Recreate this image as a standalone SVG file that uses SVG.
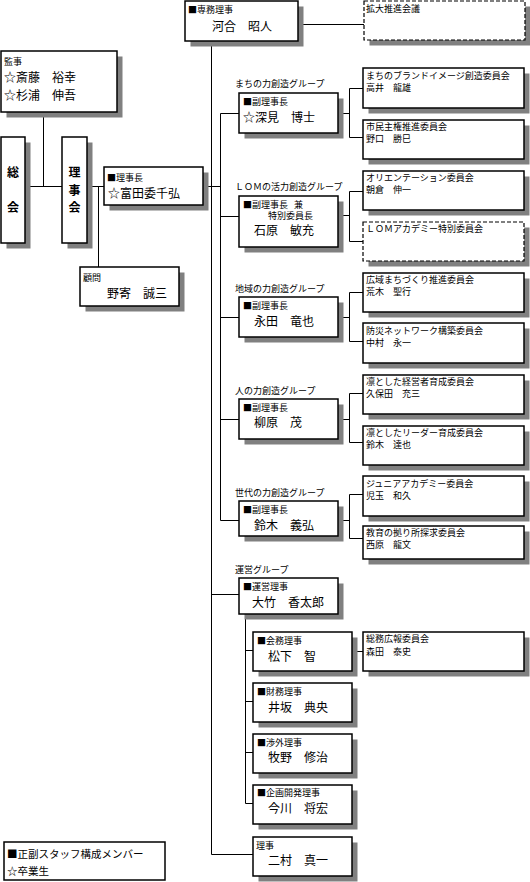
<svg xmlns="http://www.w3.org/2000/svg" width="530" height="882" viewBox="0 0 530 882">
<style>
text{font-family:"Noto Sans CJK JP","Noto Sans",sans-serif;fill:#000}
.s{font-size:9px}
.n{font-size:12px}
.b{font-size:12px;font-weight:bold;text-anchor:middle}
.l{font-size:10.5px}
.box{fill:#fff;stroke:#000;stroke-width:1.5}
.dash{fill:#fff;stroke:#000;stroke-width:1.2;stroke-dasharray:4,2}
.sh{fill:#808080}
#connectors path{fill:none;stroke:#000;stroke-width:1}
</style>
<rect width="530" height="882" fill="#fff"/>
<g id="connectors">
<path d="M298,24.5H364"/>
<path d="M211.5,41V854.5H253"/>
<path d="M203,186.5H220.5"/>
<path d="M43.5,112V186.5"/>
<path d="M25,186.5H62"/>
<path d="M87,186.5H104"/>
<path d="M98.5,186.5V267"/>
<path d="M239,113.5H220.5V520.5H239"/>
<path d="M220.5,216.5H239M220.5,317.5H239M220.5,419.5H239"/>
<path d="M211.5,594.5H239"/>
<path d="M338,113.5H349.5M363,88.5H349.5V137.5H363"/>
<path d="M338,215.5H349.5M363,191.5H349.5V241.5H363"/>
<path d="M338,317.5H349.5M363,292.5H349.5V341.5H363"/>
<path d="M338,419.5H349.5M363,393.5H349.5V442.5H363"/>
<path d="M338,520.5H349.5M363,494.5H349.5V538.5H363"/>
<path d="M352,651.5H363"/>
<path d="M245.5,614V803.5H253M245.5,650.5H253M245.5,701.5H253M245.5,752.5H253"/>
</g>
<g id="senmu">
<rect class="sh" x="190.5" y="6.5" width="113" height="40"/>
<rect class="box" x="185" y="1" width="113" height="40"/>
<text class="s" x="188" y="13">■専務理事</text>
<text class="n" x="212" y="31">河合　昭人</text>
</g>
<g id="kakudai">
<rect class="sh" x="369.5" y="6.5" width="161" height="39"/>
<rect class="dash" x="364" y="1" width="161" height="39"/>
<text class="s" x="366" y="12">拡大推進会議</text>
</g>
<g id="kanji">
<rect class="sh" x="6.5" y="56.5" width="116" height="61"/>
<rect class="box" x="1" y="51" width="116" height="61"/>
<text class="s" x="4" y="65">監事</text>
<text class="n" x="4" y="82">☆斎藤　裕幸</text>
<text class="n" x="4" y="100">☆杉浦　伸吾</text>
</g>
<g id="soukai">
<rect class="sh" x="6.5" y="142.5" width="24" height="106"/>
<rect class="box" x="1" y="137" width="24" height="106"/>
<text class="b" x="13" y="177">総</text>
<text class="b" x="13" y="212">会</text>
</g>
<g id="rijikai">
<rect class="sh" x="67.5" y="142.5" width="25" height="106"/>
<rect class="box" x="62" y="137" width="25" height="106"/>
<text class="b" x="74.5" y="177">理</text>
<text class="b" x="74.5" y="195">事</text>
<text class="b" x="74.5" y="212">会</text>
</g>
<g id="rijicho">
<rect class="sh" x="109.5" y="172.5" width="99" height="38"/>
<rect class="box" x="104" y="167" width="99" height="38"/>
<text class="s" x="107" y="181">■理事長</text>
<text class="n" x="108" y="198">☆富田委千弘</text>
</g>
<g id="komon">
<rect class="sh" x="85.5" y="272.5" width="99" height="39"/>
<rect class="box" x="80" y="267" width="99" height="39"/>
<text class="s" x="83" y="281">顧問</text>
<text class="n" x="107" y="298">野寄　誠三</text>
</g>
<g id="fukami">
<text class="s" x="235" y="87">まちの力創造グループ</text>
<rect class="sh" x="244.5" y="98.5" width="99" height="40"/>
<rect class="box" x="239" y="93" width="99" height="40"/>
<text class="s" x="243" y="105">■副理事長</text>
<text class="n" x="243" y="122">☆深見　博士</text>
</g>
<g id="ishihara">
<text class="s" x="235" y="190">ＬＯＭの活力創造グループ</text>
<rect class="sh" x="244.5" y="201.5" width="99" height="51"/>
<rect class="box" x="239" y="196" width="99" height="51"/>
<text class="s" x="243" y="208">■副理事長<tspan x="294">兼</tspan><tspan x="268" y="219">特別委員長</tspan></text>
<text class="n" x="254" y="235">石原　敏充</text>
</g>
<g id="nagata">
<text class="s" x="235" y="292">地域の力創造グループ</text>
<rect class="sh" x="244.5" y="302.5" width="99" height="40"/>
<rect class="box" x="239" y="297" width="99" height="40"/>
<text class="s" x="243" y="309">■副理事長</text>
<text class="n" x="254" y="326">永田　竜也</text>
</g>
<g id="yanagihara">
<text class="s" x="235" y="394">人の力創造グループ</text>
<rect class="sh" x="244.5" y="404.5" width="99" height="40"/>
<rect class="box" x="239" y="399" width="99" height="40"/>
<text class="s" x="243" y="411">■副理事長</text>
<text class="n" x="254" y="427">柳原　茂</text>
</g>
<g id="suzuki">
<text class="s" x="235" y="496">世代の力創造グループ</text>
<rect class="sh" x="244.5" y="506.5" width="99" height="35"/>
<rect class="box" x="239" y="501" width="99" height="35"/>
<text class="s" x="243" y="513">■副理事長</text>
<text class="n" x="254" y="530">鈴木　義弘</text>
</g>
<g id="ootake">
<text class="s" x="235" y="573">運営グループ</text>
<rect class="sh" x="244.5" y="583.5" width="99" height="36"/>
<rect class="box" x="239" y="578" width="99" height="36"/>
<text class="s" x="243" y="590">■運営理事</text>
<text class="n" x="252" y="607">大竹　香太郎</text>
</g>
<g id="com1">
<rect class="sh" x="368.5" y="73.5" width="161" height="40"/>
<rect class="box" x="363" y="68" width="161" height="40"/>
<text class="s" x="366" y="79">まちのブランドイメージ創造委員会</text>
<text class="s" x="366" y="91">高井　龍雄</text>
</g>
<g id="com2">
<rect class="sh" x="368.5" y="125.5" width="161" height="39"/>
<rect class="box" x="363" y="120" width="161" height="39"/>
<text class="s" x="366" y="130">市民主権推進委員会</text>
<text class="s" x="366" y="142">野口　勝巳</text>
</g>
<g id="com3">
<rect class="sh" x="368.5" y="176.5" width="161" height="39"/>
<rect class="box" x="363" y="171" width="161" height="39"/>
<text class="s" x="366" y="181">オリエンテーション委員会</text>
<text class="s" x="366" y="193">朝倉　伸一</text>
</g>
<g id="com4">
<rect class="sh" x="368.5" y="227.5" width="161" height="39"/>
<rect class="dash" x="363" y="222" width="161" height="39"/>
<text class="s" x="366" y="232">ＬＯＭアカデミー特別委員会</text>
</g>
<g id="com5">
<rect class="sh" x="368.5" y="278.5" width="161" height="39"/>
<rect class="box" x="363" y="273" width="161" height="39"/>
<text class="s" x="366" y="283">広域まちづくり推進委員会</text>
<text class="s" x="366" y="295">荒木　聖行</text>
</g>
<g id="com6">
<rect class="sh" x="368.5" y="328.5" width="161" height="40"/>
<rect class="box" x="363" y="323" width="161" height="40"/>
<text class="s" x="366" y="334">防災ネットワーク構築委員会</text>
<text class="s" x="366" y="346">中村　永一</text>
</g>
<g id="com7">
<rect class="sh" x="368.5" y="380.5" width="161" height="39"/>
<rect class="box" x="363" y="375" width="161" height="39"/>
<text class="s" x="366" y="385">凛とした経営者育成委員会</text>
<text class="s" x="366" y="397">久保田　充三</text>
</g>
<g id="com8">
<rect class="sh" x="368.5" y="431.5" width="161" height="39"/>
<rect class="box" x="363" y="426" width="161" height="39"/>
<text class="s" x="366" y="436">凛としたリーダー育成委員会</text>
<text class="s" x="366" y="448">鈴木　達也</text>
</g>
<g id="com9">
<rect class="sh" x="368.5" y="481.5" width="161" height="40"/>
<rect class="box" x="363" y="476" width="161" height="40"/>
<text class="s" x="366" y="487">ジュニアアカデミー委員会</text>
<text class="s" x="366" y="499">児玉　和久</text>
</g>
<g id="com10">
<rect class="sh" x="368.5" y="531.5" width="161" height="33"/>
<rect class="box" x="363" y="526" width="161" height="33"/>
<text class="s" x="366" y="536">教育の拠り所探求委員会</text>
<text class="s" x="366" y="548">西原　龍文</text>
</g>
<g id="com11">
<rect class="sh" x="368.5" y="637.5" width="161" height="39"/>
<rect class="box" x="363" y="632" width="161" height="39"/>
<text class="s" x="366" y="642">総務広報委員会</text>
<text class="s" x="366" y="655">森田　泰史</text>
</g>
<g id="matsushita">
<rect class="sh" x="258.5" y="637.5" width="99" height="39"/>
<rect class="box" x="253" y="632" width="99" height="39"/>
<text class="s" x="257" y="644">■会務理事</text>
<text class="n" x="268" y="661">松下　智</text>
</g>
<g id="isaka">
<rect class="sh" x="258.5" y="688.5" width="99" height="39"/>
<rect class="box" x="253" y="683" width="99" height="39"/>
<text class="s" x="257" y="695">■財務理事</text>
<text class="n" x="268" y="712">井坂　典央</text>
</g>
<g id="makino">
<rect class="sh" x="258.5" y="739.5" width="99" height="39"/>
<rect class="box" x="253" y="734" width="99" height="39"/>
<text class="s" x="257" y="746">■渉外理事</text>
<text class="n" x="268" y="762">牧野　修治</text>
</g>
<g id="imagawa">
<rect class="sh" x="258.5" y="790.5" width="99" height="39"/>
<rect class="box" x="253" y="785" width="99" height="39"/>
<text class="s" x="257" y="796">■企画開発理事</text>
<text class="n" x="268" y="813">今川　将宏</text>
</g>
<g id="nimura">
<rect class="sh" x="258.5" y="842.5" width="99" height="39"/>
<rect class="box" x="253" y="837" width="99" height="39"/>
<text class="s" x="256" y="849">理事</text>
<text class="n" x="268" y="865">二村　真一</text>
</g>
<g id="legend">
<rect class="box" x="4" y="842" width="161" height="38"/>
<text class="l" x="7" y="858">■正副スタッフ構成メンバー</text>
<text class="l" x="7" y="875">☆卒業生</text>
</g>
</svg>
